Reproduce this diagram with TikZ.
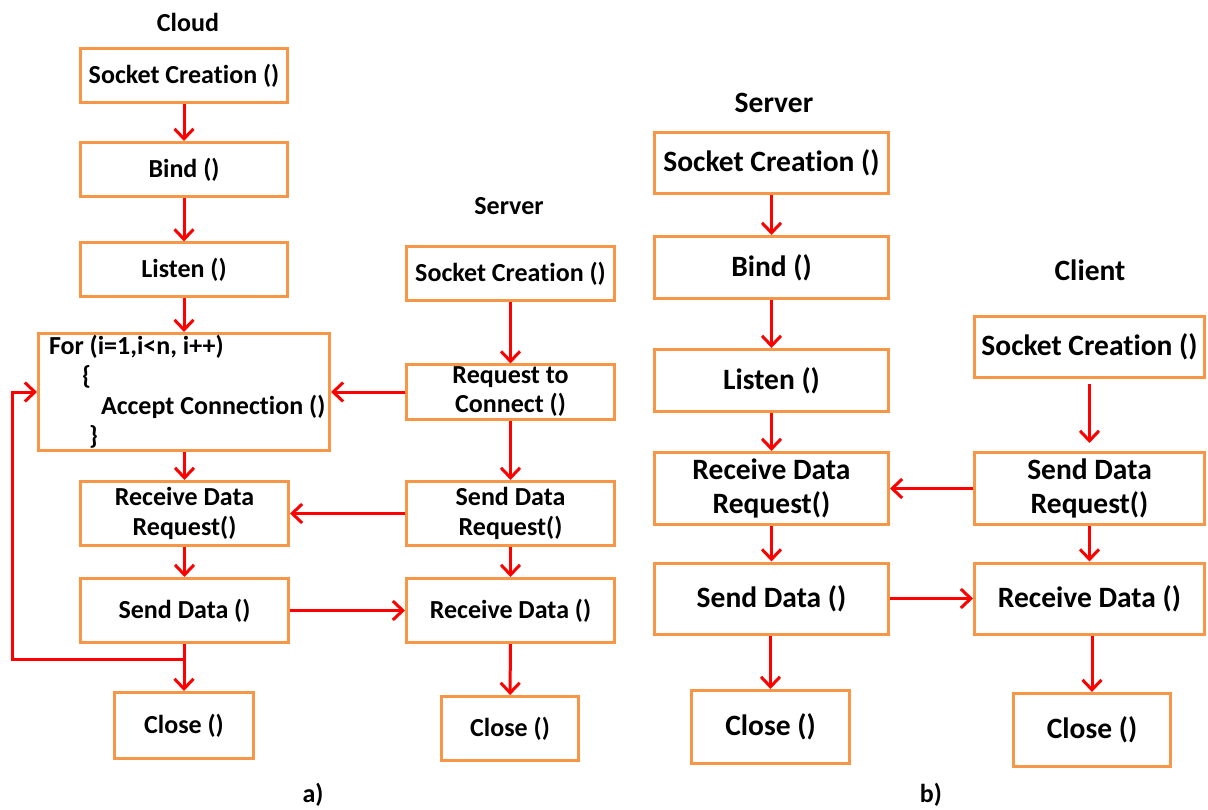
\documentclass[tikz,border=0pt]{standalone}
\usepackage{fontspec}
\setmainfont{Carlito}[Ligatures={NoCommon}]
\usetikzlibrary{arrows.meta}
\definecolor{boxorange}{HTML}{F79646}
\definecolor{arrred}{HTML}{FF0000}
\begin{document}
\begin{tikzpicture}[x=1pt,y=-1pt,
 box/.style={draw=boxorange, line width=3pt, fill=white, inner sep=0pt, align=center, font=\bfseries\fontsize{26}{30}\selectfont},
 boxb/.style={box, font=\bfseries\fontsize{29.5}{34}\selectfont},
 ttl/.style={font=\bfseries\fontsize{26}{30}\selectfont},
 ttlb/.style={font=\bfseries\fontsize{29.5}{34}\selectfont},
 arr/.style={draw=arrred, line width=3pt, -{Straight Barb[length=10pt,width=19pt]}},
]
\useasboundingbox (0,0) rectangle (1208,810);
% ---------- a) Cloud ----------
\node[ttl] (tcloud) at (188,22) {Cloud};
\node[box, minimum width=207pt, minimum height=54pt] (c1) at (184,75.5) {Socket Creation ()};
\node[box, minimum width=207pt, minimum height=54pt] (c2) at (184,169.5) {Bind ()};
\node[box, minimum width=207pt, minimum height=54pt] (c3) at (184,270) {Listen ()};
\node[box, minimum width=291pt, minimum height=117pt, text width=270pt, align=left] (c4) at (184,392)
  {\spaceskip=0pt\xspaceskip=0pt\mbox{For (i=1,i<n, i++)}\\\hspace*{33pt}\{\\\hspace*{52pt}\mbox{Accept Connection ()}\\\hspace*{40pt}\}};
\node[box, minimum width=208pt, minimum height=64pt] (c5) at (184.5,513.5) {Receive Data\\Request()};
\node[box, minimum width=208pt, minimum height=64pt] (c6) at (184.5,610.5) {Send Data ()};
\node[box, minimum width=139pt, minimum height=66pt] (c7) at (184,725.5) {Close ()};
% ---------- a) Server ----------
\node[ttl] (ts) at (509,206) {Server};
\node[box, minimum width=208pt, minimum height=54pt] (s1) at (510.5,273.5) {Socket Creation ()};
\node[box, minimum width=208pt, minimum height=54pt, font=\bfseries\fontsize{26}{29}\selectfont] (s2) at (510.5,392) {Request to\\Connect ()};
\node[box, minimum width=208pt, minimum height=64pt] (s3) at (510.5,513.5) {Send Data\\Request()};
\node[box, minimum width=208pt, minimum height=64pt] (s4) at (510.5,610.5) {Receive Data ()};
\node[box, minimum width=137pt, minimum height=64pt] (s5) at (510,728.5) {Close ()};
% arrows a)
\draw[arr] (c1) -- (c2);
\draw[arr] (c2) -- (c3);
\draw[arr] (c3) -- (c4);
\draw[arr] (c4.south -| c5) -- (c5);
\draw[arr] (c5) -- (c6);
\draw[arr] (c6.south -| c7) -- (c7);
\coordinate (lp) at (184,659);
\coordinate (lx) at (12,659);
\draw[arr] (lp) -- (lx) |- (c4.west);
\draw[arr] (s1) -- (s2);
\draw[arr] (s2) -- (s3);
\draw[arr] (s3) -- (s4);
\draw[arr] (s4) -- (s5);
\draw[arr] (s2.west) -- (c4.east);
\draw[arr] (s3.west) -- (c5.east);
\draw[arr] (c6.east) -- (s4.west);
\node[ttl] (la) at (313,795) {a)};
% ---------- b) Server ----------
\node[ttlb] (tsb) at (774,103) {Server};
\node[boxb, minimum width=234pt, minimum height=61pt] (b1) at (771.5,163) {Socket Creation ()};
\node[boxb, minimum width=234pt, minimum height=62pt] (b2) at (771.5,267.5) {Bind ()};
\node[boxb, minimum width=234pt, minimum height=62pt] (b3) at (771.5,380.5) {Listen ()};
\node[boxb, minimum width=234pt, minimum height=72pt] (b4) at (771.5,488.5) {Receive Data\\Request()};
\node[boxb, minimum width=234pt, minimum height=71pt] (b5) at (771.5,598.5) {Send Data ()};
\node[boxb, minimum width=158pt, minimum height=73pt] (b6) at (770.5,727) {Close ()};
% ---------- b) Client ----------
\node[ttlb] (tc) at (1090,270) {Client};
\node[boxb, minimum width=230pt, minimum height=61pt] (d1) at (1089.5,347) {Socket Creation ()};
\node[boxb, minimum width=230pt, minimum height=72pt] (d2) at (1089.5,488.5) {Send Data\\Request()};
\node[boxb, minimum width=230pt, minimum height=71pt] (d3) at (1089.5,598.5) {Receive Data ()};
\node[boxb, minimum width=157pt, minimum height=73pt] (d4) at (1092,730) {Close ()};
% arrows b)
\draw[arr] (b1) -- (b2);
\draw[arr] (b2) -- (b3);
\draw[arr] (b3) -- (b4);
\draw[arr] (b4) -- (b5);
\draw[arr] (b5.south -| b6) -- (b6);
\draw[arr, shorten <=5pt, shorten >=8pt] (d1) -- (d2);
\draw[arr] (d2) -- (d3);
\draw[arr] (d3.south -| d4) -- (d4);
\draw[arr] (d2.west) -- (b4.east);
\draw[arr] (b5.east) -- (d3.west);
\node[ttl] (lb) at (931,795) {b)};
\end{tikzpicture}
\end{document}
